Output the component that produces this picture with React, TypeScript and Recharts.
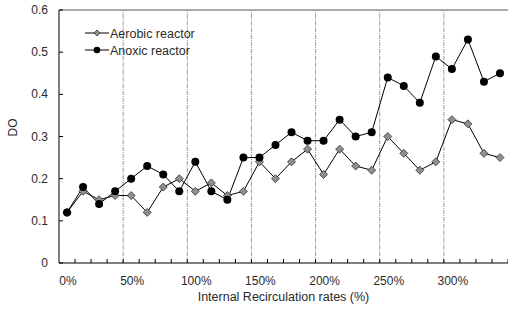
import React from "react";
import {
  LineChart,
  Line,
  XAxis,
  YAxis,
  ReferenceLine,
} from "recharts";

const aerobic = [0.12, 0.17, 0.15, 0.16, 0.16, 0.12, 0.18, 0.2, 0.17, 0.19, 0.16, 0.17, 0.24, 0.2, 0.24, 0.27, 0.21, 0.27, 0.23, 0.22, 0.3, 0.26, 0.22, 0.24, 0.34, 0.33, 0.26, 0.25];
const anoxic = [0.12, 0.18, 0.14, 0.17, 0.2, 0.23, 0.21, 0.17, 0.24, 0.17, 0.15, 0.25, 0.25, 0.28, 0.31, 0.29, 0.29, 0.34, 0.3, 0.31, 0.44, 0.42, 0.38, 0.49, 0.46, 0.53, 0.43, 0.45];
const xLabels = ["0%", "50%", "100%", "150%", "200%", "250%", "300%"];
const labelStep = 4;
const yTicks = [0, 0.1, 0.2, 0.3, 0.4, 0.5, 0.6];
const seriesNames = ["Aerobic reactor", "Anoxic reactor"];

const data = aerobic.map((v, i) => ({ idx: i, aerobic: v, anoxic: anoxic[i] }));
const n = data.length;
const boundaries = Array.from({ length: n }, (_, i) => i + 0.5);
const labelPositions = xLabels.map((_, i) => i * labelStep);
const dashedLines = labelPositions.slice(1).map((p) => p - 0.5);
const xTicks = [...boundaries, ...labelPositions];

const FONT = "'Liberation Sans', Arial, sans-serif";
const TEXT = "#2a2a2a";

const XTick = (props: any) => {
  const { x, y, payload } = props;
  const v = payload.value;
  if (Number.isInteger(v)) {
    const li = v / labelStep;
    return (
      <text x={x + 1} y={y + 22} textAnchor="middle" fontSize={12} fontFamily={FONT} fill={TEXT}>
        {xLabels[li]}
      </text>
    );
  }
  return <line x1={x} x2={x} y1={y} y2={y - 4} stroke="#000" strokeWidth={1} />;
};

const YTick = (props: any) => {
  const { x, y, payload } = props;
  const v = payload.value;
  return (
    <g>
      <line x1={x} x2={x + 4} y1={y} y2={y} stroke="#000" strokeWidth={1} />
      <text x={x - 11} y={y + 4} textAnchor="end" fontSize={12} fontFamily={FONT} fill={TEXT}>
        {v === 0 ? "0" : v.toFixed(1)}
      </text>
    </g>
  );
};

const Diamond = (props: any) => {
  const { cx, cy } = props;
  const r = 4;
  if (cx == null || cy == null) return null;
  return (
    <path
      d={`M${cx},${cy - r} L${cx + r},${cy} L${cx},${cy + r} L${cx - r},${cy} Z`}
      fill="#8f8f8f"
      stroke="#333"
      strokeWidth={0.8}
    />
  );
};

const Circle = (props: any) => {
  const { cx, cy } = props;
  if (cx == null || cy == null) return null;
  return <circle cx={cx} cy={cy} r={4} fill="#000" />;
};

const LegendBox = () => (
  <svg width={150} height={36} style={{ position: "absolute", left: 84, top: 25 }}>
    <line x1={1} x2={25} y1={8} y2={8} stroke="#000" />
    <path d="M13,5 L16,8 L13,11 L10,8 Z" fill="#8f8f8f" stroke="#333" strokeWidth={0.8} />
    <text x={26} y={12.5} fontSize={12.5} fontFamily={FONT} fill={TEXT}>{seriesNames[0]}</text>
    <line x1={1} x2={25} y1={25} y2={25} stroke="#000" />
    <circle cx={13} cy={25} r={3.3} fill="#000" />
    <text x={26} y={29.5} fontSize={12.5} fontFamily={FONT} fill={TEXT}>{seriesNames[1]}</text>
  </svg>
);

export default function App() {
  return (
    <div style={{ position: "absolute", left: 0, top: 0, width: 508, height: 311, background: "#fff" }}>
      <style>{`body{margin:0;overflow:hidden;}`}</style>
      <LineChart width={508} height={311} data={data} margin={{ top: 10, right: 0, bottom: 0, left: 0 }}>
        <XAxis
          dataKey="idx"
          type="number"
          domain={[-0.5, n - 0.5]}
          ticks={xTicks}
          interval={0}
          tick={<XTick />}
          tickLine={false}
          tickSize={0}
          tickMargin={0}
          height={48}
          axisLine={{ stroke: "#000", strokeWidth: 1 }}
          allowDecimals
          label={{ value: "Internal Recirculation rates (%)", position: "insideBottom", offset: 10, fontSize: 12.5, fontFamily: FONT, fill: TEXT }}
        />
        <YAxis
          type="number"
          domain={[0, 0.6]}
          ticks={yTicks}
          interval={0}
          width={59}
          tick={<YTick />}
          tickLine={false}
          tickSize={0}
          tickMargin={0}
          axisLine={{ stroke: "#000", strokeWidth: 1 }}
          label={{ value: "DO", angle: -90, position: "insideLeft", offset: 13, fontSize: 12, fontFamily: FONT, fill: TEXT }}
        />
        <ReferenceLine y={0.6} stroke="#555" strokeWidth={1} />
        {dashedLines.map((p) => (
          <ReferenceLine key={p} x={p} stroke="#999" strokeWidth={1} strokeDasharray="4 1 1 1" />
        ))}
        <Line
          dataKey="aerobic"
          name={seriesNames[0]}
          stroke="#000"
          strokeWidth={1}
          dot={<Diamond />}
          activeDot={false}
          isAnimationActive={false}
        />
        <Line
          dataKey="anoxic"
          name={seriesNames[1]}
          stroke="#000"
          strokeWidth={1}
          dot={<Circle />}
          activeDot={false}
          isAnimationActive={false}
        />
      </LineChart>
      <LegendBox />
    </div>
  );
}
